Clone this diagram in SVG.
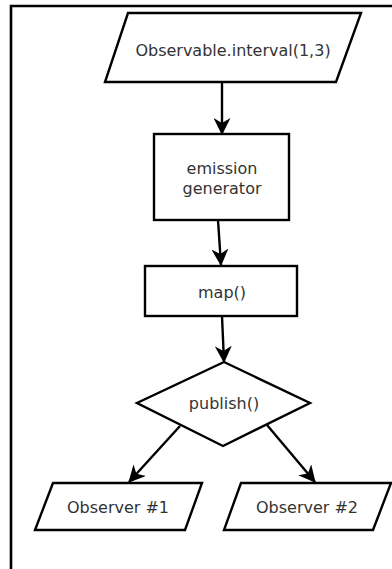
<svg xmlns="http://www.w3.org/2000/svg" width="392" height="569" viewBox="0 0 392 569">
<style>
.shape{fill:#fff;stroke:#000;stroke-width:2.4}
.lbl{font-family:"DejaVu Sans",sans-serif;font-size:16px;fill:#333;text-anchor:middle;dominant-baseline:central}
.conn{stroke:#000;stroke-width:2.4;fill:none}
</style>
<defs>
<marker id="arr" viewBox="0 0 17 17" refX="16" refY="8.5" markerWidth="17" markerHeight="17" orient="auto" markerUnits="userSpaceOnUse">
<path d="M0,0 L17,8.5 L0,17 L5,8.5 z" fill="#000"/>
</marker>
</defs>
<rect width="392" height="569" fill="#fff"/>
<g id="frame">
<path d="M11,569 L11,6 L392,6" fill="none" stroke="#000" stroke-width="2.6"/>
</g>
<g id="connectors">
<line class="conn" x1="222" y1="82" x2="222" y2="134" marker-end="url(#arr)"/>
<line class="conn" x1="218" y1="220" x2="221" y2="265" marker-end="url(#arr)"/>
<line class="conn" x1="222" y1="316" x2="224" y2="362" marker-end="url(#arr)"/>
<line class="conn" x1="180" y1="426" x2="129" y2="482" marker-end="url(#arr)"/>
<line class="conn" x1="267" y1="425" x2="315" y2="482" marker-end="url(#arr)"/>
</g>
<g id="interval">
<polygon class="shape" points="128,13 361,13 336,82 105,82"/>
<text class="lbl" x="233" y="50">Observable.interval(1,3)</text>
</g>
<g id="emission">
<rect class="shape" x="154" y="134" width="135" height="86"/>
<text class="lbl" x="222" y="168">emission</text>
<text class="lbl" x="222" y="188">generator</text>
</g>
<g id="map">
<rect class="shape" x="145" y="266" width="152" height="50"/>
<text class="lbl" x="222" y="292">map()</text>
</g>
<g id="publish">
<polygon class="shape" points="224,362 310,403 223,446 137,403"/>
<text class="lbl" x="224" y="403">publish()</text>
</g>
<g id="observer1">
<polygon class="shape" points="53,483 202,483 185,530 35,530"/>
<text class="lbl" x="118" y="507">Observer #1</text>
</g>
<g id="observer2">
<polygon class="shape" points="241,483 391,483 373,530 224,530"/>
<text class="lbl" x="307" y="507">Observer #2</text>
</g>
</svg>
